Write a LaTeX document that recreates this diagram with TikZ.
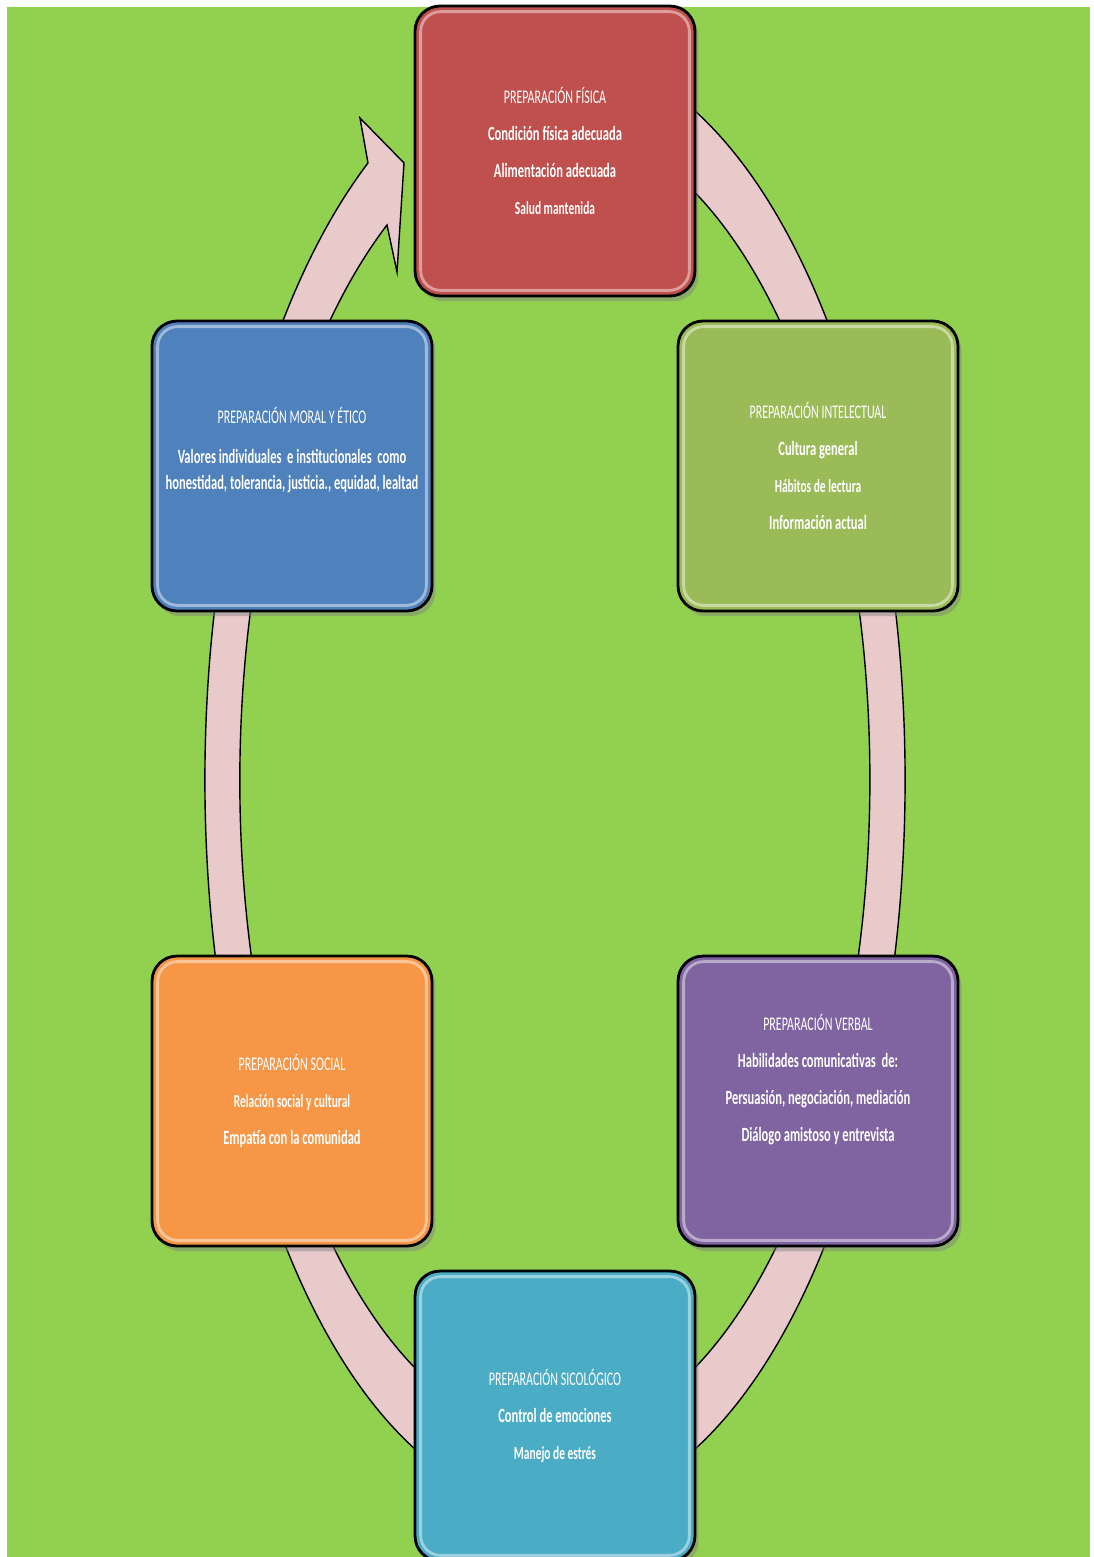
\documentclass[tikz,border=0pt]{standalone}
\usepackage{fontspec}
\newfontfamily\cyclefont[FakeStretch=0.62]{Carlito}
\usetikzlibrary{shadows}
\definecolor{fondo}{HTML}{92D050}
\definecolor{anillo}{HTML}{E8CACA}
\definecolor{rojo}{HTML}{C0504D}
\definecolor{oliva}{HTML}{9BBB59}
\definecolor{azul}{HTML}{4F81BD}
\definecolor{naranja}{HTML}{F79646}
\definecolor{morado}{HTML}{8064A2}
\definecolor{celeste}{HTML}{4BACC6}
\newcommand{\titulo}[1]{{\mdseries\fontsize{11}{12}\selectfont #1}}
\newcommand{\linea}[1]{{\fontsize{11.5}{13}\selectfont #1}}
\newcommand{\chica}[1]{{\fontsize{10.5}{12}\selectfont #1}}
\begin{document}
\begin{tikzpicture}[x=0.02cm, y=0.02cm,
  cyclebox/.style={draw=black, line width=1.6pt, rounded corners=0.5cm,
    minimum width=5.6cm, minimum height=5.8cm, text=white, align=center,
    font=\cyclefont\bfseries, drop shadow={shadow xshift=2pt, shadow yshift=-3pt, opacity=0.45}},
  gloss/.style={draw=white, opacity=0.45, line width=1.6pt, rounded corners=0.4cm},
  ringshape/.style={fill=anillo, draw=black, line width=0.8pt}]
\useasboundingbox (0,0) rectangle (1093,-1557);
\fill[fondo] (7,-7) rectangle (1090,-1557);

% ring with arrow head
\path[ringshape] (555,-780) ++(70:350 and 730)
  arc[start angle=70, end angle=-237.7, x radius=350, y radius=730]
  -- (360,-118) -- (404,-163) -- (397,-272) -- (387,-225)
  arc[start angle=-237.8, end angle=70, x radius=315, y radius=656] -- cycle;

\node[cyclebox, fill=rojo] (fisica) at (555,-151)
  {\titulo{PREPARACIÓN FÍSICA}\\[9pt]\linea{Condición física adecuada}\\[9pt]
   \linea{Alimentación adecuada}\\[9pt]\chica{Salud mantenida}};
\node[cyclebox, fill=oliva] (intelectual) at (818,-466)
  {\titulo{PREPARACIÓN INTELECTUAL}\\[9pt]\linea{Cultura general}\\[9pt]
   \chica{Hábitos de lectura}\\[9pt]\linea{Información actual}};
\node[cyclebox, fill=azul] (moral) at (292,-466)
  {\titulo{PREPARACIÓN MORAL Y ÉTICO}\\[11pt]\linea{Valores individuales\ \ e institucionales\ \ como}\\[3pt]
   \linea{honestidad, tolerancia,\ justicia.,\ equidad,\ lealtad}\\[8pt]};
\node[cyclebox, fill=naranja] (social) at (292,-1101)
  {\titulo{PREPARACIÓN SOCIAL}\\[9pt]\chica{Relación social y cultural}\\[9pt]
   \linea{Empatía\ con la comunidad}};
\node[cyclebox, fill=morado] (verbal) at (818,-1101)
  {\titulo{PREPARACIÓN VERBAL}\\[9pt]\linea{Habilidades comunicativas\ \ de:}\\[9pt]
   \linea{Persuasión, negociación,\ mediación}\\[9pt]\linea{Diálogo\ amistoso y entrevista}\\[14pt]};
\node[cyclebox, fill=celeste] (sicologica) at (555,-1416)
  {\titulo{PREPARACIÓN SICOLÓGICO}\\[9pt]\linea{Control de emociones}\\[9pt]
   \chica{Manejo de estrés}};

\foreach \n in {fisica,intelectual,moral,social,verbal,sicologica}
  \draw[gloss] ([shift={(7,-7)}]\n.north west) rectangle ([shift={(-7,7)}]\n.south east);
\end{tikzpicture}
\end{document}
